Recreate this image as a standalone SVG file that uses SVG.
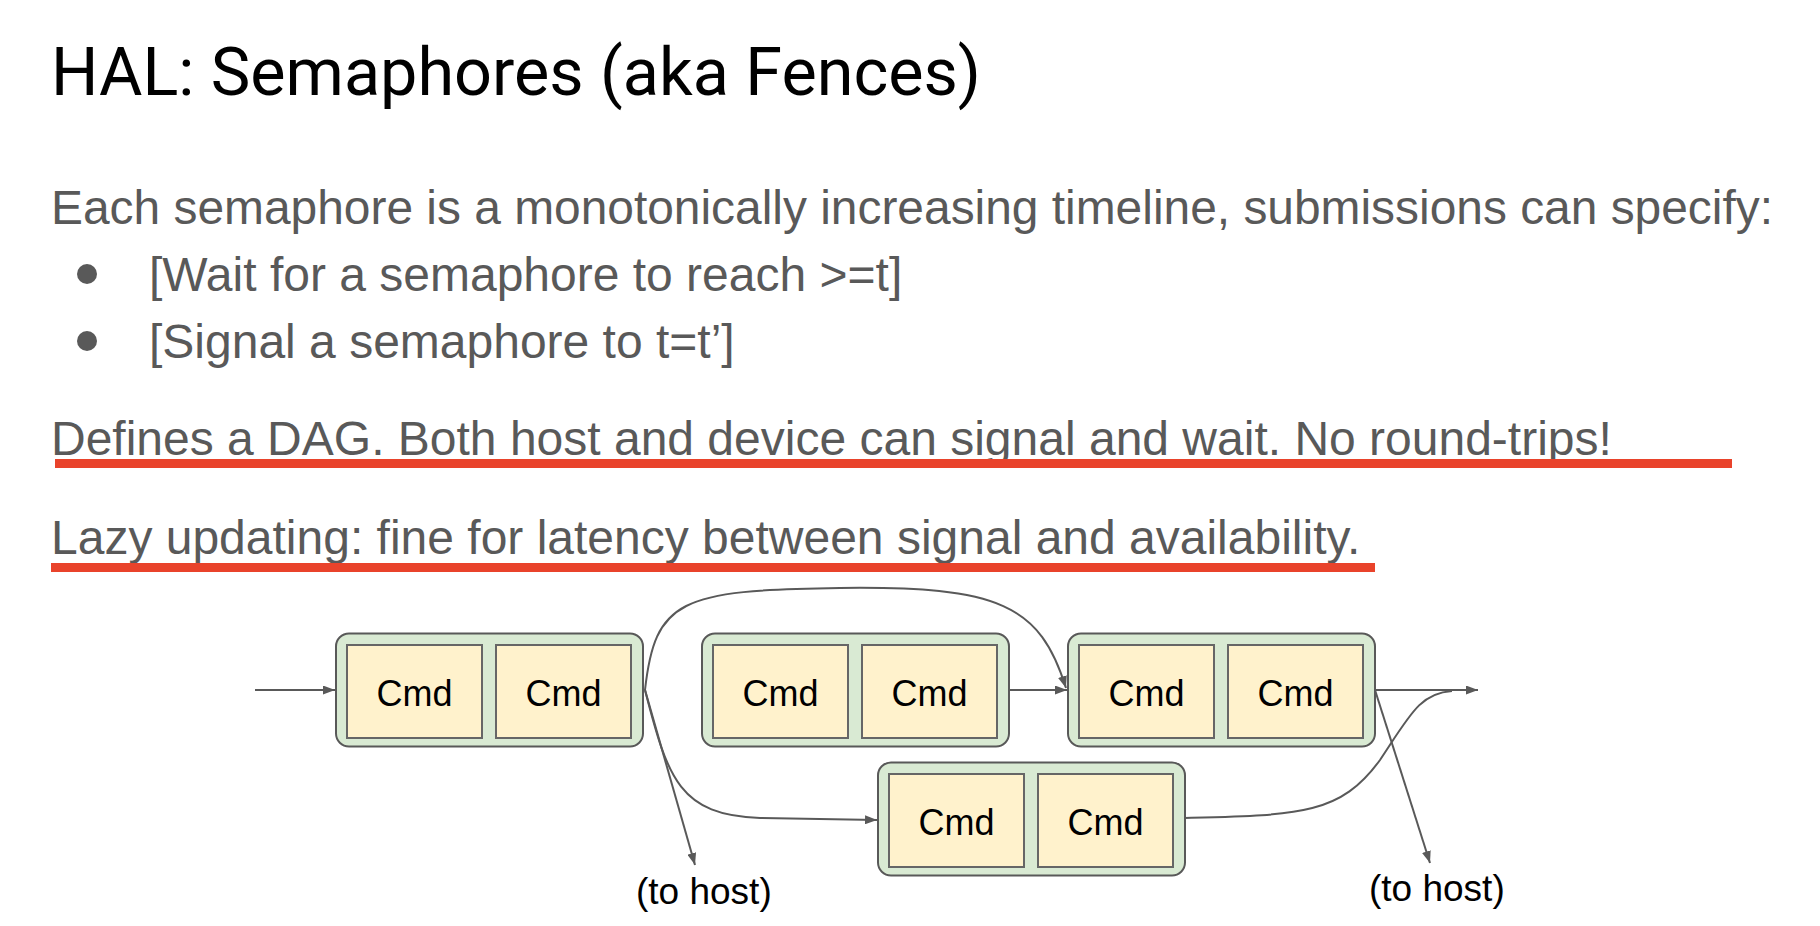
<svg xmlns="http://www.w3.org/2000/svg" width="1820" height="926" viewBox="0 0 1820 926">
  <style>
    .title { font-family: Roboto, "Liberation Sans", sans-serif; font-size: 67px; fill: #000; }
    .body { font-family: "Liberation Sans", Arial, sans-serif; font-size: 48px; fill: #595959; }
    .bullet { fill: #595959; }
    .mark { fill: #e9432b; }
    .queue { fill: #d9ead3; stroke: #595959; stroke-width: 2; }
    .cmd { fill: #fff2cc; stroke: #666666; stroke-width: 2; }
    .cmd-label { font-family: "Liberation Sans", Arial, sans-serif; font-size: 36px; fill: #000; text-anchor: middle; }
    .note { font-family: "Liberation Sans", Arial, sans-serif; font-size: 37px; fill: #000; }
    .edge { fill: none; stroke: #595959; stroke-width: 2; }
    .edge.arrow { marker-end: url(#head); }
  </style>
  <defs>
    <marker id="head" viewBox="0 0 12 9" refX="12" refY="4.5" markerWidth="12" markerHeight="9" markerUnits="userSpaceOnUse" orient="auto">
      <path d="M0,0 L12,4.5 L0,9 z" fill="#595959"/>
    </marker>
  </defs>

  <rect width="1820" height="926" fill="#ffffff"/>

  <!-- heading -->
  <text class="title" x="51" y="95" textLength="930" lengthAdjust="spacingAndGlyphs">HAL: Semaphores (aka Fences)</text>

  <!-- body copy -->
  <text class="body" x="51" y="224" textLength="1722" lengthAdjust="spacingAndGlyphs">Each semaphore is a monotonically increasing timeline, submissions can specify:</text>
  <circle class="bullet" cx="87" cy="274" r="10"/>
  <text class="body" x="149" y="291">[Wait for a semaphore to reach &gt;=t]</text>
  <circle class="bullet" cx="87" cy="341" r="10"/>
  <text class="body" x="149" y="358">[Signal a semaphore to t=t’]</text>

  <text class="body" x="51" y="455">Defines a DAG. Both host and device can signal and wait. No round-trips!</text>
  <rect class="mark" x="55" y="459" width="1677" height="9"/>

  <text class="body" x="51" y="554">Lazy updating: fine for latency between signal and availability.</text>
  <rect class="mark" x="51" y="563" width="1324" height="9"/>

  <!-- connectors -->
  <g id="connectors">
    <path class="edge arrow" d="M255 690 L335 690"/>
    <path class="edge arrow" d="M645 690 C655 600, 680 590, 840 588 C1000 586, 1040 605, 1066 688"/>
    <path class="edge arrow" d="M645 690 L695 865"/>
    <path class="edge arrow" d="M645 690 C668 780, 680 815, 760 818 L877 820"/>
    <path class="edge arrow" d="M1009 690 L1067 690"/>
    <path class="edge arrow" d="M1375 690 L1478 690"/>
    <path class="edge arrow" d="M1375 690 L1430 863"/>
    <path class="edge" d="M1185 818 C1300 815, 1340 815, 1380 760 C1410 715, 1420 693, 1452 691"/>
  </g>

  <!-- command buffer queues -->
  <g id="queue-1">
    <rect class="queue" x="336" y="633.5" width="307" height="113" rx="13"/>
    <rect class="cmd" x="347" y="645" width="135" height="93"/>
    <rect class="cmd" x="496" y="645" width="135" height="93"/>
    <text class="cmd-label" x="414.5" y="706">Cmd</text>
    <text class="cmd-label" x="563.5" y="706">Cmd</text>
  </g>
  <g id="queue-2">
    <rect class="queue" x="702" y="633.5" width="307" height="113" rx="13"/>
    <rect class="cmd" x="713" y="645" width="135" height="93"/>
    <rect class="cmd" x="862" y="645" width="135" height="93"/>
    <text class="cmd-label" x="780.5" y="706">Cmd</text>
    <text class="cmd-label" x="929.5" y="706">Cmd</text>
  </g>
  <g id="queue-3">
    <rect class="queue" x="1068" y="633.5" width="307" height="113" rx="13"/>
    <rect class="cmd" x="1079" y="645" width="135" height="93"/>
    <rect class="cmd" x="1228" y="645" width="135" height="93"/>
    <text class="cmd-label" x="1146.5" y="706">Cmd</text>
    <text class="cmd-label" x="1295.5" y="706">Cmd</text>
  </g>
  <g id="queue-4">
    <rect class="queue" x="878" y="762.5" width="307" height="113" rx="13"/>
    <rect class="cmd" x="889" y="774" width="135" height="93"/>
    <rect class="cmd" x="1038" y="774" width="135" height="93"/>
    <text class="cmd-label" x="956.5" y="835">Cmd</text>
    <text class="cmd-label" x="1105.5" y="835">Cmd</text>
  </g>

  <!-- host endpoints -->
  <g id="host-1">
    <text class="note" x="636" y="904">(to host)</text>
  </g>
  <g id="host-2">
    <text class="note" x="1369" y="901">(to host)</text>
  </g>
</svg>
